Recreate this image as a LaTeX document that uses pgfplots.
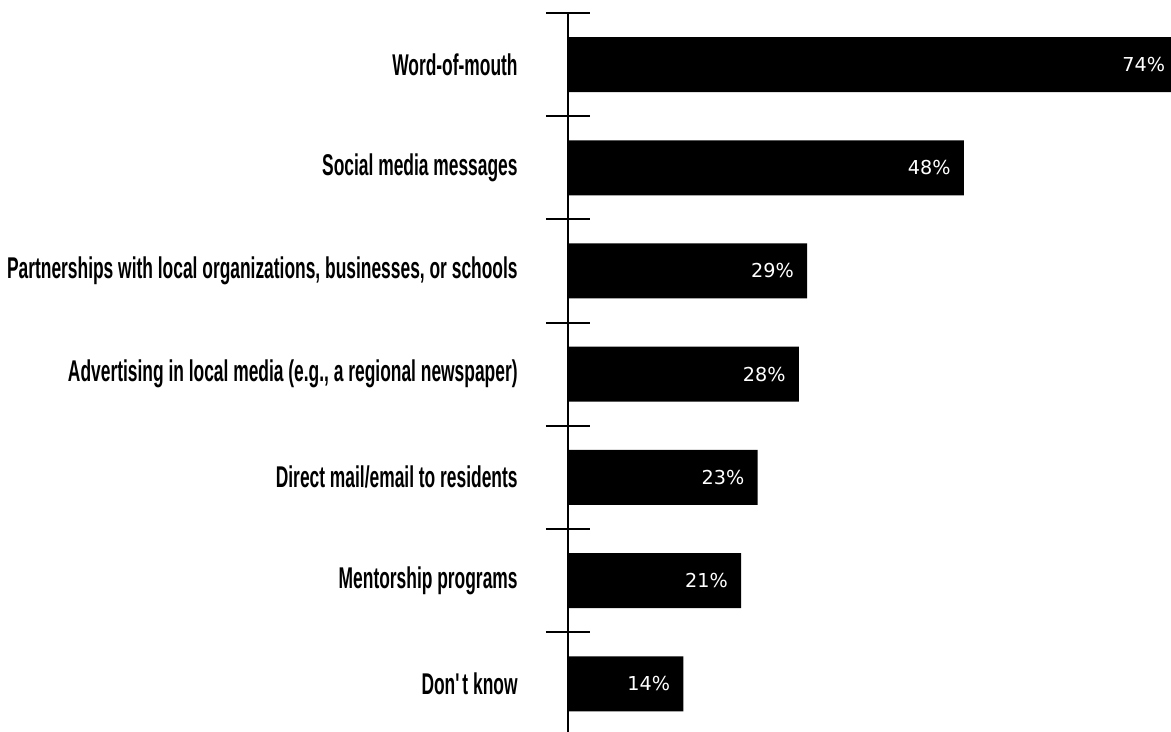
\documentclass[border=0pt]{standalone}
\usepackage{fontspec}
\usepackage{pgfplots}
\pgfplotsset{compat=1.18}
\newfontfamily\labelfont[FakeStretch=0.58]{Liberation Sans Bold}
\newfontfamily\valfont{DejaVu Sans}
\begin{document}
\begin{tikzpicture}
\begin{axis}[
  scale only axis,
  width=301.5pt, height=359.5pt,
  at={(0pt,0pt)}, anchor=south west,
  xbar, bar width=27.5pt,
  xmin=0, xmax=73.1,
  ymin=-0.5, ymax=6.467,
  y dir=reverse,
  clip=false,
  axis x line=none,
  axis y line*=left,
  y axis line style={line width=1pt, -},
  ytick={0,...,6},
  yticklabels={Word-of-mouth, Social media messages, {Partnerships with local organizations, businesses, or schools}, {Advertising in local media (e.g., a regional newspaper)}, Direct mail/email to residents, Mentorship programs, Don\textquotesingle t know},
  major tick length=0pt,
  minor ytick={-0.5,0.5,...,5.5},
  minor tick length=22pt,
  tick align=center,
  every tick/.style={line width=1pt, black},
  yticklabel style={font=\labelfont\fontsize{15}{17}\selectfont, anchor=east, inner sep=0pt, xshift=-25pt},
  /pgf/number format/assume math mode=true,
  point meta=x,
  nodes near coords={\pgfmathprintnumber{\pgfplotspointmeta}\%},
  nodes near coords style={font=\valfont\fontsize{9.6}{11}\selectfont, text=white, anchor=east, inner sep=0pt, xshift=-6.5pt},
]
\addplot[fill=black, draw=none] coordinates {(74,0) (48,1) (29,2) (28,3) (23,4) (21,5) (14,6)};
\end{axis}
\pgfresetboundingbox
\useasboundingbox (-284pt,0pt) rectangle (301.5pt,366pt);
\end{tikzpicture}
\end{document}
